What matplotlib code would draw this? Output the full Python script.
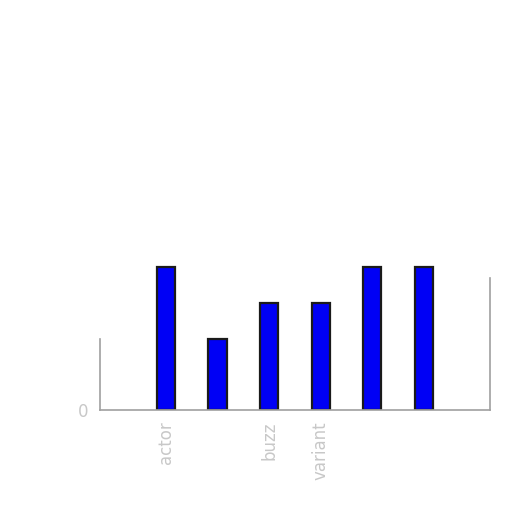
import matplotlib

matplotlib.use("Agg")
import matplotlib.pyplot as plt
import numpy as np

# values
categories = ["actor", "", "buzz", "variant", "", ""]
values = [4, 2, 3, 3, 4, 4]

bar_color = "#0000f5"
text_gray = "#c8c8c8"
spine_gray = "#a0a0a0"

fig = plt.figure(figsize=(5.12, 5.12), dpi=100, facecolor="white")
ax = fig.add_axes([0.195, 0.199, 0.762, 0.684])

x = np.arange(len(values))
ax.bar(x, values, width=0.35, color=bar_color, edgecolor="#1a1a1a", linewidth=1.6)

ax.set_xlim(-1.28, len(values) - 1 + 1.28)
ax.set_ylim(0, 9.8)

ax.set_xticks(x)
ax.set_xticklabels(categories, rotation=90, color=text_gray, fontsize=12)
ax.set_yticks([0])
ax.set_yticklabels(["0"], color=text_gray, fontsize=12)
ax.tick_params(length=0, pad=8)

ax.spines["top"].set_visible(False)
for side in ("left", "right", "bottom"):
    ax.spines[side].set_color(spine_gray)
    ax.spines[side].set_linewidth(1.2)
ax.spines["left"].set_bounds(0, 2)
ax.spines["right"].set_bounds(0, 3.7)

fig.savefig("out.png", dpi=100, facecolor="white")
